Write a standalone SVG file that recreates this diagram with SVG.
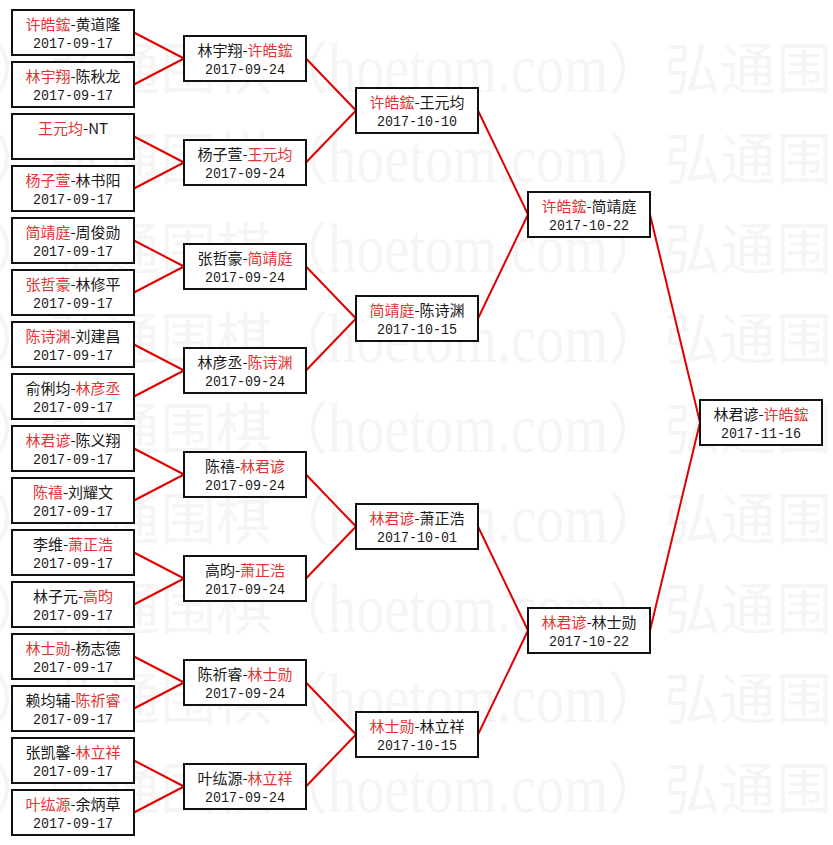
<svg xmlns="http://www.w3.org/2000/svg" xmlns:xlink="http://www.w3.org/1999/xlink" width="833" height="845" viewBox="0 0 833 845">
<style>
.bx rect{fill:#fff;stroke:#111;stroke-width:2}
.n{font-family:"Noto Sans CJK SC","Liberation Sans",sans-serif;font-size:15px;fill:#1a1a1a;text-anchor:middle}
.r{fill:#e53333}
.d{font-family:"Liberation Mono",monospace;font-size:14px;fill:#1a1a1a;text-anchor:middle}
.wc{font-family:"Noto Sans CJK SC",sans-serif;font-size:56px;fill:#f5f5f5}
.wl{font-family:"Liberation Serif",serif;font-size:70px;fill:#f5f5f5}
#lines line{stroke:#e00000;stroke-width:2}
</style>
<defs>
<g id="wmu">
<text class="wc" x="0" y="0">弘通围棋（</text>
<text class="wl" x="280" y="3" textLength="280" lengthAdjust="spacingAndGlyphs">hoetom.com</text>
<text class="wc" x="560" y="0">）</text>
</g>
<g id="wmrow">
<use xlink:href="#wmu" x="-568"/>
<use xlink:href="#wmu" x="48"/>
<use xlink:href="#wmu" x="664"/>
</g>
</defs>
<rect width="833" height="845" fill="#fff"/>
<g id="watermark">
<use xlink:href="#wmrow" y="89"/>
<use xlink:href="#wmrow" y="179"/>
<use xlink:href="#wmrow" y="269"/>
<use xlink:href="#wmrow" y="359"/>
<use xlink:href="#wmrow" y="449"/>
<use xlink:href="#wmrow" y="539"/>
<use xlink:href="#wmrow" y="629"/>
<use xlink:href="#wmrow" y="719"/>
<use xlink:href="#wmrow" y="809"/>
</g>
<g id="lines">
<line x1="134" y1="32.5" x2="184" y2="58.5"/>
<line x1="134" y1="84.5" x2="184" y2="58.5"/>
<line x1="134" y1="136.5" x2="184" y2="162.5"/>
<line x1="134" y1="188.5" x2="184" y2="162.5"/>
<line x1="134" y1="240.5" x2="184" y2="266.5"/>
<line x1="134" y1="292.5" x2="184" y2="266.5"/>
<line x1="134" y1="344.5" x2="184" y2="370.5"/>
<line x1="134" y1="396.5" x2="184" y2="370.5"/>
<line x1="134" y1="448.5" x2="184" y2="474.5"/>
<line x1="134" y1="500.5" x2="184" y2="474.5"/>
<line x1="134" y1="552.5" x2="184" y2="578.5"/>
<line x1="134" y1="604.5" x2="184" y2="578.5"/>
<line x1="134" y1="656.5" x2="184" y2="682.5"/>
<line x1="134" y1="708.5" x2="184" y2="682.5"/>
<line x1="134" y1="760.5" x2="184" y2="786.5"/>
<line x1="134" y1="812.5" x2="184" y2="786.5"/>
<line x1="306" y1="58.5" x2="356" y2="110.5"/>
<line x1="306" y1="162.5" x2="356" y2="110.5"/>
<line x1="306" y1="266.5" x2="356" y2="318.5"/>
<line x1="306" y1="370.5" x2="356" y2="318.5"/>
<line x1="306" y1="474.5" x2="356" y2="526.5"/>
<line x1="306" y1="578.5" x2="356" y2="526.5"/>
<line x1="306" y1="682.5" x2="356" y2="734.5"/>
<line x1="306" y1="786.5" x2="356" y2="734.5"/>
<line x1="478" y1="110.5" x2="528" y2="214.5"/>
<line x1="478" y1="318.5" x2="528" y2="214.5"/>
<line x1="478" y1="526.5" x2="528" y2="630.5"/>
<line x1="478" y1="734.5" x2="528" y2="630.5"/>
<line x1="650" y1="214.5" x2="700" y2="422.5"/>
<line x1="650" y1="630.5" x2="700" y2="422.5"/>
</g>
<!-- round 1 -->
<g id="r1m1" class="bx"><rect x="12" y="10" width="122" height="45"/><text class="n" x="73" y="29.5"><tspan class="r">许皓鋐</tspan>-黄道隆</text><text class="d" x="73" y="48" textLength="80" lengthAdjust="spacingAndGlyphs">2017-09-17</text></g>
<g id="r1m2" class="bx"><rect x="12" y="62" width="122" height="45"/><text class="n" x="73" y="81.5"><tspan class="r">林宇翔</tspan>-陈秋龙</text><text class="d" x="73" y="100" textLength="80" lengthAdjust="spacingAndGlyphs">2017-09-17</text></g>
<g id="r1m3" class="bx"><rect x="12" y="114" width="122" height="45"/><text class="n" x="73" y="133.5"><tspan class="r">王元均</tspan>-NT</text></g>
<g id="r1m4" class="bx"><rect x="12" y="166" width="122" height="45"/><text class="n" x="73" y="185.5"><tspan class="r">杨子萱</tspan>-林书阳</text><text class="d" x="73" y="204" textLength="80" lengthAdjust="spacingAndGlyphs">2017-09-17</text></g>
<g id="r1m5" class="bx"><rect x="12" y="218" width="122" height="45"/><text class="n" x="73" y="237.5"><tspan class="r">简靖庭</tspan>-周俊勋</text><text class="d" x="73" y="256" textLength="80" lengthAdjust="spacingAndGlyphs">2017-09-17</text></g>
<g id="r1m6" class="bx"><rect x="12" y="270" width="122" height="45"/><text class="n" x="73" y="289.5"><tspan class="r">张哲豪</tspan>-林修平</text><text class="d" x="73" y="308" textLength="80" lengthAdjust="spacingAndGlyphs">2017-09-17</text></g>
<g id="r1m7" class="bx"><rect x="12" y="322" width="122" height="45"/><text class="n" x="73" y="341.5"><tspan class="r">陈诗渊</tspan>-刘建昌</text><text class="d" x="73" y="360" textLength="80" lengthAdjust="spacingAndGlyphs">2017-09-17</text></g>
<g id="r1m8" class="bx"><rect x="12" y="374" width="122" height="45"/><text class="n" x="73" y="393.5">俞俐均-<tspan class="r">林彦丞</tspan></text><text class="d" x="73" y="412" textLength="80" lengthAdjust="spacingAndGlyphs">2017-09-17</text></g>
<g id="r1m9" class="bx"><rect x="12" y="426" width="122" height="45"/><text class="n" x="73" y="445.5"><tspan class="r">林君谚</tspan>-陈义翔</text><text class="d" x="73" y="464" textLength="80" lengthAdjust="spacingAndGlyphs">2017-09-17</text></g>
<g id="r1m10" class="bx"><rect x="12" y="478" width="122" height="45"/><text class="n" x="73" y="497.5"><tspan class="r">陈禧</tspan>-刘耀文</text><text class="d" x="73" y="516" textLength="80" lengthAdjust="spacingAndGlyphs">2017-09-17</text></g>
<g id="r1m11" class="bx"><rect x="12" y="530" width="122" height="45"/><text class="n" x="73" y="549.5">李维-<tspan class="r">萧正浩</tspan></text><text class="d" x="73" y="568" textLength="80" lengthAdjust="spacingAndGlyphs">2017-09-17</text></g>
<g id="r1m12" class="bx"><rect x="12" y="582" width="122" height="45"/><text class="n" x="73" y="601.5">林子元-<tspan class="r">高昀</tspan></text><text class="d" x="73" y="620" textLength="80" lengthAdjust="spacingAndGlyphs">2017-09-17</text></g>
<g id="r1m13" class="bx"><rect x="12" y="634" width="122" height="45"/><text class="n" x="73" y="653.5"><tspan class="r">林士勋</tspan>-杨志德</text><text class="d" x="73" y="672" textLength="80" lengthAdjust="spacingAndGlyphs">2017-09-17</text></g>
<g id="r1m14" class="bx"><rect x="12" y="686" width="122" height="45"/><text class="n" x="73" y="705.5">赖均辅-<tspan class="r">陈祈睿</tspan></text><text class="d" x="73" y="724" textLength="80" lengthAdjust="spacingAndGlyphs">2017-09-17</text></g>
<g id="r1m15" class="bx"><rect x="12" y="738" width="122" height="45"/><text class="n" x="73" y="757.5">张凯馨-<tspan class="r">林立祥</tspan></text><text class="d" x="73" y="776" textLength="80" lengthAdjust="spacingAndGlyphs">2017-09-17</text></g>
<g id="r1m16" class="bx"><rect x="12" y="790" width="122" height="45"/><text class="n" x="73" y="809.5"><tspan class="r">叶纮源</tspan>-余炳草</text><text class="d" x="73" y="828" textLength="80" lengthAdjust="spacingAndGlyphs">2017-09-17</text></g>
<!-- round 2 -->
<g id="r2m1" class="bx"><rect x="184" y="36" width="122" height="45"/><text class="n" x="245" y="55.5">林宇翔-<tspan class="r">许皓鋐</tspan></text><text class="d" x="245" y="74" textLength="80" lengthAdjust="spacingAndGlyphs">2017-09-24</text></g>
<g id="r2m2" class="bx"><rect x="184" y="140" width="122" height="45"/><text class="n" x="245" y="159.5">杨子萱-<tspan class="r">王元均</tspan></text><text class="d" x="245" y="178" textLength="80" lengthAdjust="spacingAndGlyphs">2017-09-24</text></g>
<g id="r2m3" class="bx"><rect x="184" y="244" width="122" height="45"/><text class="n" x="245" y="263.5">张哲豪-<tspan class="r">简靖庭</tspan></text><text class="d" x="245" y="282" textLength="80" lengthAdjust="spacingAndGlyphs">2017-09-24</text></g>
<g id="r2m4" class="bx"><rect x="184" y="348" width="122" height="45"/><text class="n" x="245" y="367.5">林彦丞-<tspan class="r">陈诗渊</tspan></text><text class="d" x="245" y="386" textLength="80" lengthAdjust="spacingAndGlyphs">2017-09-24</text></g>
<g id="r2m5" class="bx"><rect x="184" y="452" width="122" height="45"/><text class="n" x="245" y="471.5">陈禧-<tspan class="r">林君谚</tspan></text><text class="d" x="245" y="490" textLength="80" lengthAdjust="spacingAndGlyphs">2017-09-24</text></g>
<g id="r2m6" class="bx"><rect x="184" y="556" width="122" height="45"/><text class="n" x="245" y="575.5">高昀-<tspan class="r">萧正浩</tspan></text><text class="d" x="245" y="594" textLength="80" lengthAdjust="spacingAndGlyphs">2017-09-24</text></g>
<g id="r2m7" class="bx"><rect x="184" y="660" width="122" height="45"/><text class="n" x="245" y="679.5">陈祈睿-<tspan class="r">林士勋</tspan></text><text class="d" x="245" y="698" textLength="80" lengthAdjust="spacingAndGlyphs">2017-09-24</text></g>
<g id="r2m8" class="bx"><rect x="184" y="764" width="122" height="45"/><text class="n" x="245" y="783.5">叶纮源-<tspan class="r">林立祥</tspan></text><text class="d" x="245" y="802" textLength="80" lengthAdjust="spacingAndGlyphs">2017-09-24</text></g>
<!-- round 3 -->
<g id="r3m1" class="bx"><rect x="356" y="88" width="122" height="45"/><text class="n" x="417" y="107.5"><tspan class="r">许皓鋐</tspan>-王元均</text><text class="d" x="417" y="126" textLength="80" lengthAdjust="spacingAndGlyphs">2017-10-10</text></g>
<g id="r3m2" class="bx"><rect x="356" y="296" width="122" height="45"/><text class="n" x="417" y="315.5"><tspan class="r">简靖庭</tspan>-陈诗渊</text><text class="d" x="417" y="334" textLength="80" lengthAdjust="spacingAndGlyphs">2017-10-15</text></g>
<g id="r3m3" class="bx"><rect x="356" y="504" width="122" height="45"/><text class="n" x="417" y="523.5"><tspan class="r">林君谚</tspan>-萧正浩</text><text class="d" x="417" y="542" textLength="80" lengthAdjust="spacingAndGlyphs">2017-10-01</text></g>
<g id="r3m4" class="bx"><rect x="356" y="712" width="122" height="45"/><text class="n" x="417" y="731.5"><tspan class="r">林士勋</tspan>-林立祥</text><text class="d" x="417" y="750" textLength="80" lengthAdjust="spacingAndGlyphs">2017-10-15</text></g>
<!-- round 4 -->
<g id="r4m1" class="bx"><rect x="528" y="192" width="122" height="45"/><text class="n" x="589" y="211.5"><tspan class="r">许皓鋐</tspan>-简靖庭</text><text class="d" x="589" y="230" textLength="80" lengthAdjust="spacingAndGlyphs">2017-10-22</text></g>
<g id="r4m2" class="bx"><rect x="528" y="608" width="122" height="45"/><text class="n" x="589" y="627.5"><tspan class="r">林君谚</tspan>-林士勋</text><text class="d" x="589" y="646" textLength="80" lengthAdjust="spacingAndGlyphs">2017-10-22</text></g>
<!-- final -->
<g id="final" class="bx"><rect x="700" y="400" width="122" height="45"/><text class="n" x="761" y="419.5">林君谚-<tspan class="r">许皓鋐</tspan></text><text class="d" x="761" y="438" textLength="80" lengthAdjust="spacingAndGlyphs">2017-11-16</text></g>
</svg>
